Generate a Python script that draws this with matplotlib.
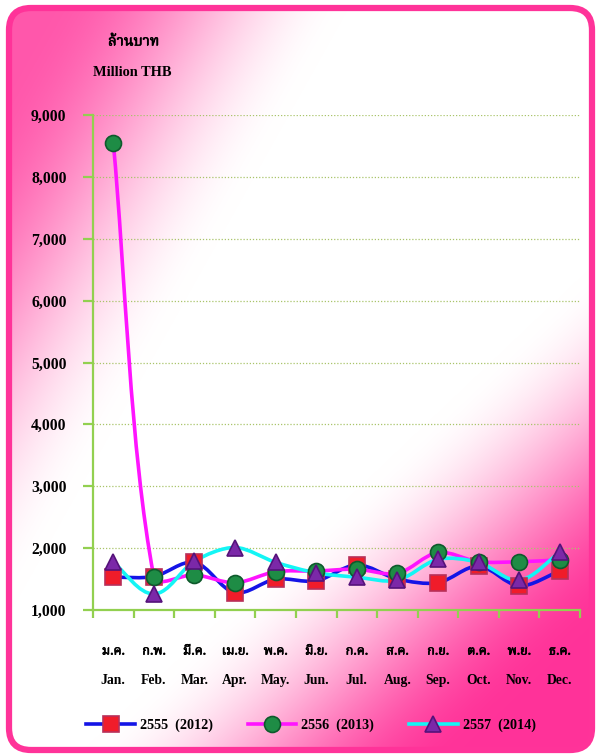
import numpy as np
import matplotlib
matplotlib.use("Agg")
from matplotlib import pyplot as plt
from matplotlib import font_manager
from matplotlib import patheffects
from matplotlib.path import Path
from matplotlib.patches import PathPatch, FancyBboxPatch
from matplotlib.lines import Line2D

months_th = ["ม.ค.", "ก.พ.", "มี.ค.", "เม.ย.", "พ.ค.", "มิ.ย.",
             "ก.ค.", "ส.ค.", "ก.ย.", "ต.ค.", "พ.ย.", "ธ.ค."]
months_en = ["Jan.", "Feb.", "Mar.", "Apr.", "May.", "Jun.",
             "Jul.", "Aug.", "Sep.", "Oct.", "Nov.", "Dec."]
series_names = ["2555  (2012)", "2556  (2013)", "2557  (2014)"]
values_2555 = [1530, 1540, 1770, 1280, 1500, 1470, 1730, 1500, 1440, 1710, 1390, 1630]
values_2556 = [8550, 1530, 1570, 1440, 1620, 1630, 1660, 1590, 1930, 1780, 1780, 1810]
values_2557 = [1770, 1260, 1790, 2010, 1770, 1600, 1530, 1480, 1820, 1770, 1480, 1930]
y_ticks = [1000, 2000, 3000, 4000, 5000, 6000, 7000, 8000, 9000]

names = {f.name for f in font_manager.fontManager.ttflist}
thai_font = [f for f in ["Noto Serif Thai", "Noto Sans Thai", "Noto Sans Thai Looped",
                         "Loma", "Garuda", "Norasi", "Tlwg Typo", "Kinnari"] if f in names]
serif = ["Liberation Serif", "DejaVu Serif"]
thai_fam = thai_font + serif
thick = [patheffects.withStroke(linewidth=0.45, foreground="black")]

W, H = 598, 755
fig = plt.figure(figsize=(W / 100, H / 100), dpi=100)

# background: pink top-left and bottom-right, white across the middle
bg = fig.add_axes([0, 0, 1, 1])
bg.set_xlim(0, W)
bg.set_ylim(H, 0)
bg.axis("off")
xx, yy = np.meshgrid(np.arange(W), np.arange(H))
d_right = ((xx - 600) * 380 + (yy - 340) * 400) / 552.0
d_left = ((xx - 330) * -500 + yy * -280) / 573.0
t_r = np.clip((d_right + 60) / 260.0, 0, 1)
t_l = np.clip((d_left + 20) / 260.0, 0, 1)
t_r = t_r * t_r * (3 - 2 * t_r)
t_l = t_l * t_l * (3 - 2 * t_l) * 0.82
t = np.maximum(t_r, t_l)
pink = np.array([255, 51, 153]) / 255.0
img = 1 - t[..., None] * (1 - pink)
im = bg.imshow(img, extent=(0, W, H, 0), aspect="auto", zorder=0)
frame = FancyBboxPatch((9, 8), W - 15, H - 13, boxstyle="round,pad=0,rounding_size=22",
                       facecolor="none", edgecolor="#ff3399", lw=4.5, zorder=2)
bg.add_patch(frame)
im.set_clip_path(frame)

ax = fig.add_axes([93 / W, 145 / H, 487 / W, 495 / H])
ax.patch.set_alpha(0)
ax.set_xlim(-0.5, 11.5)
ax.set_ylim(1000, 9000)


def smooth_path(ax, xs, ys, k=0.3):
    # bezier smoothing done in pixel space, so the overshoot stays small
    pts = ax.transData.transform(np.column_stack([xs, ys]).astype(float))
    n = len(pts)
    tang = []
    for i in range(n):
        v = pts[min(i + 1, n - 1)] - pts[max(i - 1, 0)]
        tang.append(v / np.hypot(*v))
    verts = [pts[0]]
    codes = [Path.MOVETO]
    for i in range(n - 1):
        seg = np.hypot(*(pts[i + 1] - pts[i]))
        verts += [pts[i] + tang[i] * seg * k, pts[i + 1] - tang[i + 1] * seg * k, pts[i + 1]]
        codes += [Path.CURVE4] * 3
    verts = ax.transData.inverted().transform(np.array(verts))
    return Path(verts, codes)


x = np.arange(len(months_en))
styles = [
    (values_2555, "#1414e6", "s", 11, "#f01c2a", "#b8305a"),
    (values_2556, "#ff14ff", "o", 11.5, "#1e8c45", "#0e5a2c"),
    (values_2557, "#14f5f5", "^", 12, "#7b28a8", "#55127a"),
]
for vals, lc, *_ in styles:
    ax.add_patch(PathPatch(smooth_path(ax, x, vals), facecolor="none", edgecolor=lc,
                           lw=2.6, zorder=3, capstyle="round"))
handles = []
for (vals, lc, mk, ms, fc, ec), name in zip(styles, series_names):
    ax.plot(x, vals, ls="none", marker=mk, ms=ms, mfc=fc, mec=ec, mew=1.2, zorder=4)
    handles.append(Line2D([], [], color=lc, lw=2.6, marker=mk, ms=ms, mfc=fc, mec=ec, mew=1.2))

ax.set_yticks(y_ticks)
ax.set_yticklabels([f"{v:,}" for v in y_ticks], fontfamily=serif, fontweight="bold", fontsize=11.3)
ax.grid(axis="y", color="#a9c46a", ls=(0, (1, 1.5)), lw=0.9)
ax.set_axisbelow(True)
for s in ["top", "right"]:
    ax.spines[s].set_visible(False)
for s in ["left", "bottom"]:
    ax.spines[s].set_color("#92d050")
    ax.spines[s].set_linewidth(1.6)
ax.tick_params(axis="y", colors="#92d050", length=7, width=1.6, pad=12, labelcolor="black")
ax.set_xticks(np.arange(-0.5, 12, 1))
ax.set_xticklabels([])
ax.tick_params(axis="x", colors="#92d050", length=6, width=1.6)

for i in x:
    ax.text(i, -0.083, months_th[i], transform=ax.get_xaxis_transform(), ha="center",
            va="center", fontfamily=thai_fam, fontweight="bold", fontsize=9.3,
            path_effects=thick)
    ax.text(i, -0.143, months_en[i], transform=ax.get_xaxis_transform(), ha="center",
            va="center", fontfamily=serif, fontweight="bold", fontsize=9.8)

fig.text(108 / W, 1 - 42 / H, "ล้านบาท", fontfamily=thai_fam, fontweight="bold",
         fontsize=10.5, ha="left", va="center", path_effects=thick)
fig.text(93 / W, 1 - 73 / H, "Million THB", fontfamily=serif, fontweight="bold",
         fontsize=10.4, ha="left", va="center")

fig.legend(handles, series_names, loc="center", bbox_to_anchor=(311 / W, 1 - 725 / H),
           ncol=3, frameon=False, handlelength=3.4, columnspacing=2.5, handletextpad=0.35,
           prop={"family": serif, "weight": "bold", "size": 10.2})

fig.savefig("out.png", dpi=100)
